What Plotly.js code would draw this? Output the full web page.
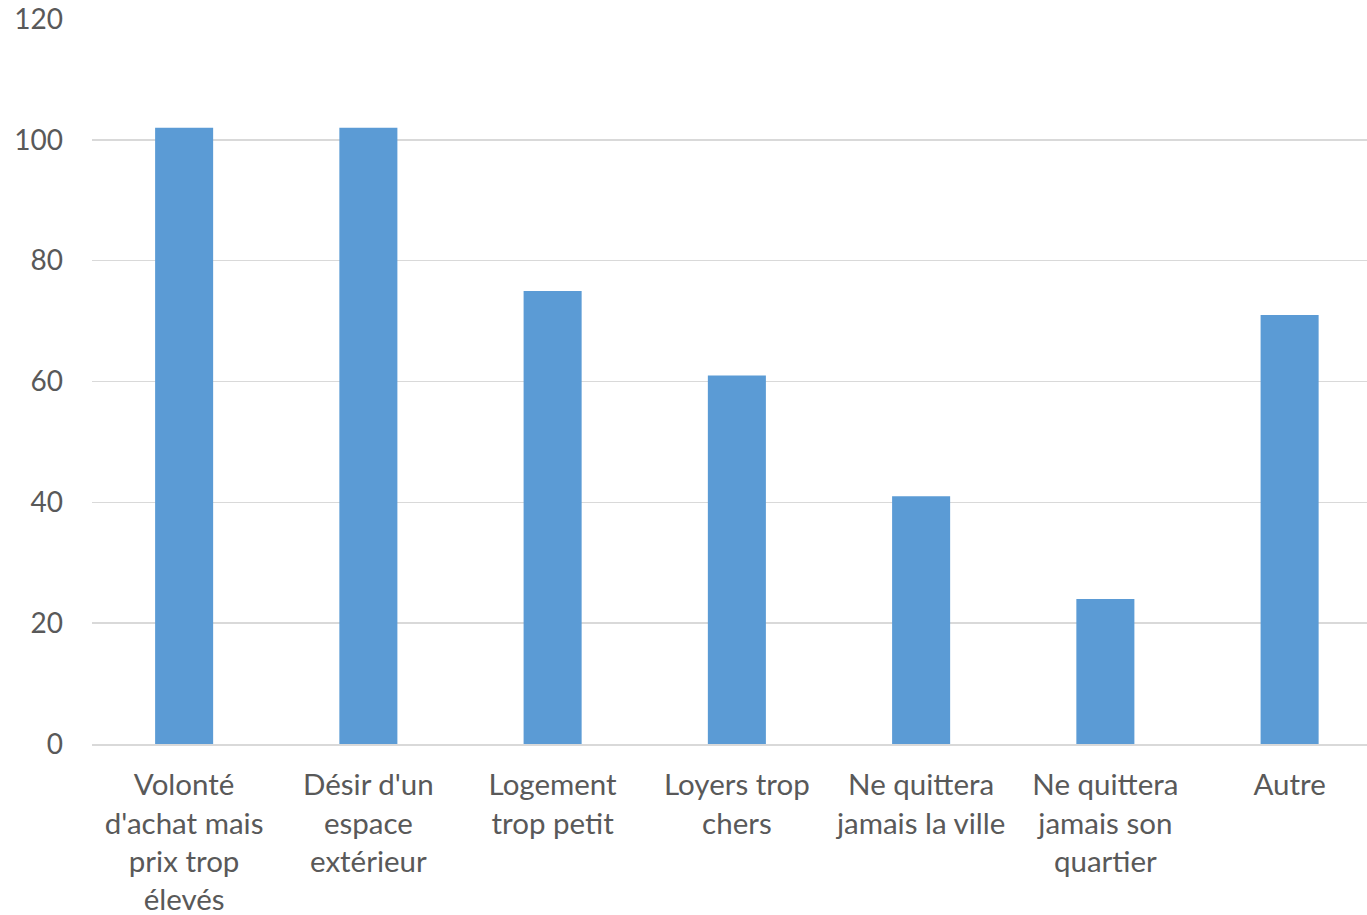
<!DOCTYPE html>
<html>
<head>
<meta charset="utf-8">
<script src="https://cdn.plot.ly/plotly-3.0.1.min.js"></script>
<style>html,body{margin:0;padding:0;background:#fff;}#chart{width:1367px;height:915px;}</style>
</head>
<body>
<div id="chart"></div>
<script>
const categories = [
  "Volonté<br>d'achat mais<br>prix trop<br>élevés",
  "Désir d'un<br>espace<br>extérieur",
  "Logement<br>trop petit",
  "Loyers trop<br>chers",
  "Ne quittera<br>jamais la ville",
  "Ne quittera<br>jamais son<br>quartier",
  "Autre"
];
const values = [102, 102, 75, 61, 41, 24, 71];
const yTicks = [0, 20, 40, 60, 80, 100, 120];

const fam = "Lato, 'Open Sans', sans-serif";
const xFont = {family: fam, size: 29.5, color: "#595959"};
const yFont = {family: fam, size: 28, color: "#595959"};

Plotly.newPlot("chart", [{
  type: "bar",
  x: categories.map((c, i) => i),
  y: values,
  width: 0.315,
  marker: {color: "#5B9BD5"},
  hoverinfo: "none"
}], {
  width: 1367, height: 915,
  margin: {l: 92, r: 0, t: 19, b: 171},
  paper_bgcolor: "#fff", plot_bgcolor: "#fff",
  font: yFont,
  showlegend: false,
  xaxis: {
    range: [-0.5, 6.42],
    tickvals: categories.map((c, i) => i),
    ticktext: categories,
    showgrid: false, zeroline: false,
    showline: true, linecolor: "#D9D9D9", linewidth: 2,
    ticks: "", ticklabelstandoff: 14,
    tickfont: xFont, fixedrange: true
  },
  yaxis: {
    range: [0, 120],
    tickvals: yTicks,
    showgrid: true, gridcolor: "#D9D9D9", gridwidth: 1.5,
    zeroline: false, showline: false, ticks: "",
    ticklabelstandoff: 28,
    tickfont: yFont, fixedrange: true
  }
}, {displayModeBar: false, staticPlot: true});
</script>
</body>
</html>
